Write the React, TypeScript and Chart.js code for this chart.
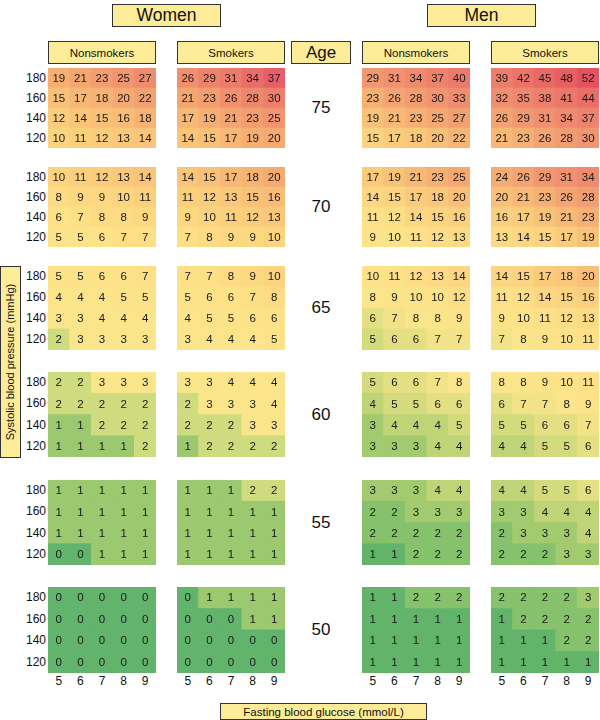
import React, { useEffect, useRef } from 'react';
import { Chart, registerables } from 'chart.js';
Chart.register(...registerables);

const glucoseLabels = ['5', '6', '7', '8', '9'];
const bpLabels = ['180', '160', '140', '120'];
const ageLabels = ['75', '70', '65', '60', '55', '50'];

// rows: 180, 160, 140, 120 ; columns: glucose 5..9
const womenNonsmokers = [
  [[19, 21, 23, 25, 27], [15, 17, 18, 20, 22], [12, 14, 15, 16, 18], [10, 11, 12, 13, 14]],
  [[10, 11, 12, 13, 14], [8, 9, 9, 10, 11], [6, 7, 8, 8, 9], [5, 5, 6, 7, 7]],
  [[5, 5, 6, 6, 7], [4, 4, 4, 5, 5], [3, 3, 4, 4, 4], [2, 3, 3, 3, 3]],
  [[2, 2, 3, 3, 3], [2, 2, 2, 2, 2], [1, 1, 2, 2, 2], [1, 1, 1, 1, 2]],
  [[1, 1, 1, 1, 1], [1, 1, 1, 1, 1], [1, 1, 1, 1, 1], [0, 0, 1, 1, 1]],
  [[0, 0, 0, 0, 0], [0, 0, 0, 0, 0], [0, 0, 0, 0, 0], [0, 0, 0, 0, 0]],
];
const womenSmokers = [
  [[26, 29, 31, 34, 37], [21, 23, 26, 28, 30], [17, 19, 21, 23, 25], [14, 15, 17, 19, 20]],
  [[14, 15, 17, 18, 20], [11, 12, 13, 15, 16], [9, 10, 11, 12, 13], [7, 8, 9, 9, 10]],
  [[7, 7, 8, 9, 10], [5, 6, 6, 7, 8], [4, 5, 5, 6, 6], [3, 4, 4, 4, 5]],
  [[3, 3, 4, 4, 4], [2, 3, 3, 3, 4], [2, 2, 2, 3, 3], [1, 2, 2, 2, 2]],
  [[1, 1, 1, 2, 2], [1, 1, 1, 1, 1], [1, 1, 1, 1, 1], [1, 1, 1, 1, 1]],
  [[0, 1, 1, 1, 1], [0, 0, 0, 1, 1], [0, 0, 0, 0, 0], [0, 0, 0, 0, 0]],
];
const menNonsmokers = [
  [[29, 31, 34, 37, 40], [23, 26, 28, 30, 33], [19, 21, 23, 25, 27], [15, 17, 18, 20, 22]],
  [[17, 19, 21, 23, 25], [14, 15, 17, 18, 20], [11, 12, 14, 15, 16], [9, 10, 11, 12, 13]],
  [[10, 11, 12, 13, 14], [8, 9, 10, 10, 12], [6, 7, 8, 8, 9], [5, 6, 6, 7, 7]],
  [[5, 6, 6, 7, 8], [4, 5, 5, 6, 6], [3, 4, 4, 4, 5], [3, 3, 3, 4, 4]],
  [[3, 3, 3, 4, 4], [2, 2, 3, 3, 3], [2, 2, 2, 2, 2], [1, 1, 2, 2, 2]],
  [[1, 1, 2, 2, 2], [1, 1, 1, 1, 1], [1, 1, 1, 1, 1], [1, 1, 1, 1, 1]],
];
const menSmokers = [
  [[39, 42, 45, 48, 52], [32, 35, 38, 41, 44], [26, 29, 31, 34, 37], [21, 23, 26, 28, 30]],
  [[24, 26, 29, 31, 34], [20, 21, 23, 26, 28], [16, 17, 19, 21, 23], [13, 14, 15, 17, 19]],
  [[14, 15, 17, 18, 20], [11, 12, 14, 15, 16], [9, 10, 11, 12, 13], [7, 8, 9, 10, 11]],
  [[8, 8, 9, 10, 11], [6, 7, 7, 8, 9], [5, 5, 6, 6, 7], [4, 4, 5, 5, 6]],
  [[4, 4, 5, 5, 6], [3, 3, 4, 4, 4], [2, 3, 3, 3, 4], [2, 2, 2, 3, 3]],
  [[2, 2, 2, 2, 3], [1, 2, 2, 2, 2], [1, 1, 1, 2, 2], [1, 1, 1, 1, 1]],
];

// colour stops (value -> colour), per sex
const womenStops: [number, string][] = [
  [0, '#62b36b'], [1, '#9cc86f'], [2, '#cfdb7f'], [3, '#fbe58b'], [6, '#fde288'],
  [10, '#fcd47f'], [15, '#f9c077'], [20, '#f5aa72'], [26, '#f0906e'], [31, '#ec7b6c'], [37, '#e75f68'],
];
const menStops: [number, string][] = [
  [1, '#63b46b'], [2, '#86c16c'], [3, '#a2ca6f'], [4, '#bed476'], [5, '#d3db7d'], [6, '#e4df83'],
  [7, '#f3e388'], [8, '#fbe58b'], [12, '#fdde86'], [17, '#fbcb7c'], [23, '#f6b073'], [30, '#f19470'],
  [40, '#ec7a6c'], [52, '#e5525f'],
];

const FONT = '"Liberation Sans", Arial, Helvetica, sans-serif';
const BOX_BG = '#fcec97';
const BOX_BORDER = '1.6px solid #333';

const colX = [48, 177, 362, 491];
const colW = 108;
const rowY = [68, 167, 266, 372, 480, 587];
const rowH = [80, 80, 84, 85, 85, 86];

function hexToRgb(h: string) {
  const n = parseInt(h.slice(1), 16);
  return [(n >> 16) & 255, (n >> 8) & 255, n & 255];
}
function colorFor(v: number, stops: [number, string][]) {
  if (v <= stops[0][0]) return stops[0][1];
  for (let i = 1; i < stops.length; i++) {
    if (v <= stops[i][0]) {
      const [a, ca] = stops[i - 1];
      const [b, cb] = stops[i];
      const t = (v - a) / (b - a);
      const A = hexToRgb(ca), B = hexToRgb(cb);
      const c = A.map((x, k) => Math.round(x + (B[k] - x) * t));
      return `rgb(${c[0]},${c[1]},${c[2]})`;
    }
  }
  return stops[stops.length - 1][1];
}

const panelSets = [
  { data: womenNonsmokers, stops: womenStops },
  { data: womenSmokers, stops: womenStops },
  { data: menNonsmokers, stops: menStops },
  { data: menSmokers, stops: menStops },
];

const valueLabelPlugin = {
  id: 'valueLabels',
  afterDatasetsDraw(chart: any) {
    const ctx = chart.ctx;
    ctx.save();
    ctx.font = `11.5px ${FONT}`;
    ctx.fillStyle = '#1a1a1a';
    ctx.textAlign = 'center';
    ctx.textBaseline = 'middle';
    chart.data.datasets.forEach((ds: any, di: number) => {
      const meta = chart.getDatasetMeta(di);
      meta.data.forEach((el: any, j: number) => {
        const p = el.getProps(['x', 'y', 'base'], true);
        ctx.fillText(String(ds.values[j]), p.x, (p.y + p.base) / 2 + 0.5);
      });
    });
    ctx.restore();
  },
};

function Box({ left, top, width, height, text, size, vertical }: any) {
  return (
    <div
      style={{
        position: 'absolute', left, top, width, height, background: BOX_BG, border: BOX_BORDER,
        boxSizing: 'border-box', display: 'flex', alignItems: 'center', justifyContent: 'center',
        fontSize: size, color: '#111', whiteSpace: 'nowrap', overflow: 'visible',
      }}
    >
      {vertical ? (
        <span style={{ transform: 'rotate(-90deg)', display: 'inline-block' }}>{text}</span>
      ) : (
        text
      )}
    </div>
  );
}

export default function App() {
  const refs = useRef<(HTMLCanvasElement | null)[]>([]);

  useEffect(() => {
    const charts: Chart[] = [];
    panelSets.forEach((set, c) => {
      ageLabels.forEach((_age, r) => {
        const canvas = refs.current[c * 6 + r];
        if (!canvas) return;
        const grid = set.data[r];
        // stack from bottom (120) to top (180)
        const datasets = [3, 2, 1, 0].map((row) => ({
          label: bpLabels[row],
          data: grid[row].map(() => 1),
          values: grid[row],
          backgroundColor: grid[row].map((v) => colorFor(v, set.stops)),
          borderWidth: 0,
          barPercentage: 1,
          categoryPercentage: 1,
        }));
        charts.push(
          new Chart(canvas, {
            type: 'bar',
            data: { labels: glucoseLabels, datasets: datasets as any },
            options: {
              animation: false,
              responsive: false,
              maintainAspectRatio: false,
              devicePixelRatio: 1,
              layout: { padding: 0 },
              events: [],
              plugins: { legend: { display: false }, tooltip: { enabled: false } },
              scales: {
                x: { display: false, stacked: true },
                y: { display: false, stacked: true, min: 0, max: 4 },
              },
            },
            plugins: [valueLabelPlugin],
          })
        );
      });
    });
    return () => charts.forEach((ch) => ch.destroy());
  }, []);

  const canvases: any[] = [];
  panelSets.forEach((_s, c) => {
    ageLabels.forEach((_a, r) => {
      canvases.push(
        <canvas
          key={`c${c}-${r}`}
          ref={(el) => { refs.current[c * 6 + r] = el; }}
          width={colW}
          height={rowH[r]}
          style={{ position: 'absolute', left: colX[c], top: rowY[r], width: colW, height: rowH[r] }}
        />
      );
    });
  });

  const yTicks: any[] = [];
  ageLabels.forEach((_a, r) => {
    bpLabels.forEach((bp, k) => {
      const h = rowH[r] / 4;
      yTicks.push(
        <div
          key={`yt${r}-${k}`}
          style={{
            position: 'absolute', left: 0, width: 46, textAlign: 'right', top: rowY[r] + h * k,
            height: h, lineHeight: `${h}px`, fontSize: 12, color: '#111',
          }}
        >
          {bp}
        </div>
      );
    });
  });

  const xTicks: any[] = [];
  colX.forEach((x, c) => {
    glucoseLabels.forEach((g, k) => {
      const w = colW / 5;
      xTicks.push(
        <div
          key={`xt${c}-${k}`}
          style={{
            position: 'absolute', left: x + w * k, width: w, textAlign: 'center', top: 673,
            height: 16, lineHeight: '16px', fontSize: 12, color: '#111',
          }}
        >
          {g}
        </div>
      );
    });
  });

  const ageTexts = ageLabels.map((a, r) => (
    <div
      key={`age${a}`}
      style={{
        position: 'absolute', left: 291, width: 60, textAlign: 'center', top: rowY[r],
        height: rowH[r], lineHeight: `${rowH[r]}px`, fontSize: 17, color: '#111',
      }}
    >
      {a}
    </div>
  ));

  return (
    <div
      style={{
        position: 'absolute', left: 0, top: 0, width: 600, height: 720, background: '#fff',
        fontFamily: FONT, overflow: 'hidden',
      }}
    >
      <Box left={112} top={4} width={109} height={23} text="Women" size={17.5} />
      <Box left={427} top={4} width={109} height={23} text="Men" size={17.5} />
      <Box left={48} top={41} width={108} height={23} text="Nonsmokers" size={11.5} />
      <Box left={177} top={41} width={108} height={23} text="Smokers" size={11.5} />
      <Box left={291} top={41} width={60} height={23} text="Age" size={17} />
      <Box left={362} top={41} width={108} height={23} text="Nonsmokers" size={11.5} />
      <Box left={491} top={41} width={108} height={23} text="Smokers" size={11.5} />
      <Box left={0} top={266} width={21} height={192} text="Systolic blood pressure (mmHg)" size={11} vertical />
      <Box left={220} top={703} width={207} height={17} text="Fasting blood glucose (mmol/L)" size={11.5} />
      {canvases}
      {yTicks}
      {xTicks}
      {ageTexts}
    </div>
  );
}
